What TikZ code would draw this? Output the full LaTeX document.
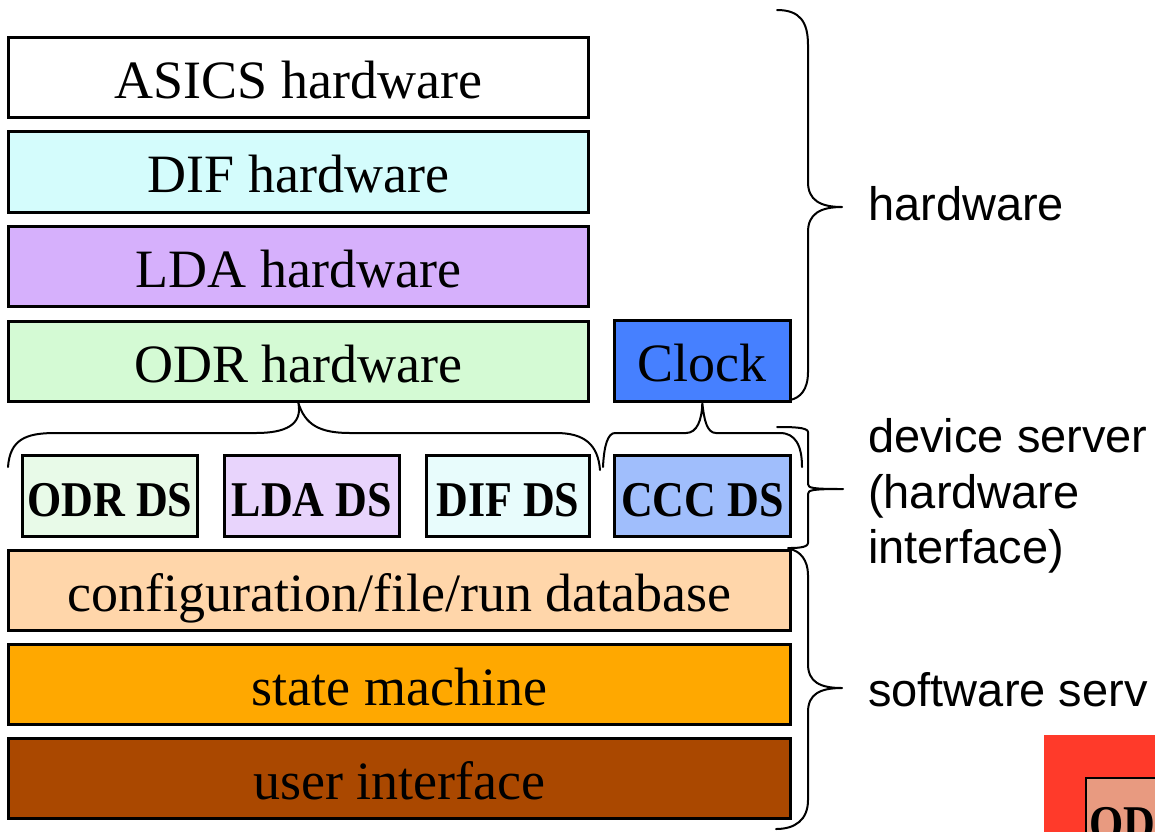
\documentclass[tikz,border=0pt]{standalone}
\usepackage{graphicx}
\usepackage{fontspec}
\setmainfont{Liberation Serif}
\newfontfamily\labelfont{Liberation Sans}
\newcommand{\narrowbold}[1]{\scalebox{0.88}[1]{\bfseries #1}}
\definecolor{difhw}{HTML}{D4FCFC}
\definecolor{ldahw}{HTML}{D6B0FC}
\definecolor{odrhw}{HTML}{D4FAD4}
\definecolor{clockc}{HTML}{4680FF}
\definecolor{odrds}{HTML}{E8FAE8}
\definecolor{ldads}{HTML}{E8D4FC}
\definecolor{difds}{HTML}{E8FCFC}
\definecolor{cccds}{HTML}{A0BEFC}
\definecolor{confdb}{HTML}{FFD6AA}
\definecolor{statem}{HTML}{FFA800}
\definecolor{userif}{HTML}{AA4800}
\definecolor{redbg}{HTML}{FF3A2A}
\definecolor{salmon}{HTML}{E89A80}
\begin{document}
\begin{tikzpicture}[x=1pt,y=-1pt,
  layer/.style={draw=black, line width=2.6pt, anchor=north west, inner sep=0pt,
    font=\fontsize{54}{60}\selectfont, text height=42pt, text depth=0pt},
  dsbox/.style={layer, font=\fontsize{50}{56}\selectfont, text height=42pt,
    minimum width=175pt, minimum height=81pt},
  brace/.style={draw=black, line width=2pt, line cap=round, line join=round},
  side/.style={anchor=base west, inner sep=0pt, font=\labelfont\fontsize{47}{55}\selectfont}]
\clip (0,0) rectangle (1155,831);
\fill[white] (0,0) rectangle (1155,831);

% hardware layers
\node[layer, fill=white,  minimum width=580pt, minimum height=80pt] (asics) at (7,36)  {ASICS hardware};
\node[layer, fill=difhw,  minimum width=580pt, minimum height=81pt] (difhw) at (7,130) {DIF hardware};
\node[layer, fill=ldahw,  minimum width=580pt, minimum height=80pt] (ldahw) at (7,225) {LDA hardware};
\node[layer, fill=odrhw,  minimum width=580pt, minimum height=80pt] (odrhw) at (7,320) {ODR hardware};
\node[layer, fill=clockc, minimum width=176pt, minimum height=81pt] (clock) at (613,319) {Clock};

% device servers
\node[dsbox, fill=odrds] (odrds) at (21,454)  {\narrowbold{ODR DS}};
\node[dsbox, fill=ldads] (ldads) at (223,454) {\narrowbold{LDA DS}};
\node[dsbox, fill=difds, minimum width=163pt] (difds) at (425,454) {\narrowbold{DIF DS}};
\node[dsbox, fill=cccds, minimum width=176pt] (cccds) at (613,454) {\narrowbold{CCC DS}};

% software layers
\node[layer, fill=confdb, minimum width=782pt, minimum height=80pt] (confdb) at (7,549) {configuration/file/run database};
\node[layer, fill=statem, minimum width=782pt, minimum height=80pt] (statem) at (7,643) {state machine};
\node[layer, fill=userif, minimum width=782pt, minimum height=80pt] (userif) at (7,737) {user interface};

% braces joining the device servers to the hardware they drive
\draw[brace] (8,467) .. controls (10,440) and (25,433) .. (55,433) -- (256,433)
  .. controls (285,433) and (303,425) .. (odrhw.south)
  .. controls (305,425) and (320,433) .. (350,433) -- (556,433)
  .. controls (585,433) and (598,445) .. (600,470);
\draw[brace] (603,467) .. controls (604,445) and (608,433) .. (615,433) -- (686,433)
  .. controls (697,433) and (702,420) .. (clock.south)
  .. controls (704,420) and (707,433) .. (716,433) -- (780,433)
  .. controls (795,433) and (802,445) .. (802,467);

% side braces
\draw[brace] (777,10) .. controls (800,10) and (808,22) .. (808,45) -- (808,182)
  .. controls (808,200) and (820,207) .. (842,207)
  .. controls (820,207) and (808,214) .. (808,232) -- (808,372)
  .. controls (808,390) and (800,398) .. (790,400);
\draw[brace] (777,427) .. controls (790,427) and (808,427) .. (808,432) -- (808,484)
  .. controls (808,488) and (812,489) .. (843,489)
  (843,489) .. controls (812,489) and (808,490) .. (808,494) -- (808,543)
  .. controls (808,548) and (795,548) .. (788,548);
\draw[brace] (790,549) .. controls (800,551) and (808,560) .. (808,575) -- (808,664)
  .. controls (808,682) and (820,688) .. (842,688)
  .. controls (820,688) and (808,694) .. (808,712) -- (808,800)
  .. controls (808,820) and (795,829) .. (776,829);

% side labels
\node[side] (hwlabel) at (868,220) {hardware};
\node[side] (dslabel1) at (868,452) {device server};
\node[side] (dslabel2) at (868,508) {(hardware};
\node[side] (dslabel3) at (868,563) {interface)};
\node[side] (swlabel) at (868,706) {software serv};

% corner of the next panel
\fill[redbg] (1044,735) rectangle (1160,836);
\draw[line width=2.6pt, fill=salmon] (1086,778) rectangle (1170,850);
\node[anchor=base west, inner sep=0pt, font=\fontsize{50}{56}\selectfont] (odrmini) at (1089,840) {\narrowbold{OD}};
\end{tikzpicture}
\end{document}
